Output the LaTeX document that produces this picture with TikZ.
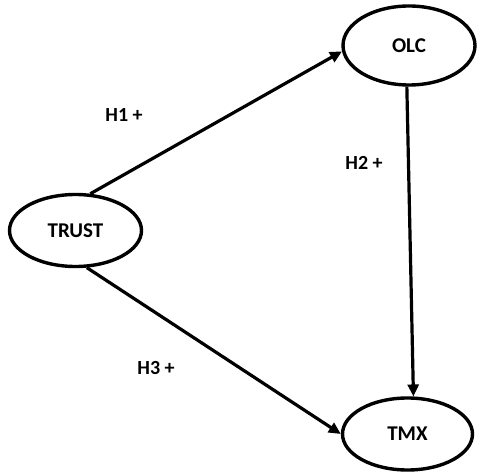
\documentclass[tikz,border=0pt]{standalone}
\usepackage{fontspec}
\setmainfont{Carlito}
\usetikzlibrary{shapes.geometric,arrows.meta}
\begin{document}
\begin{tikzpicture}[x=1pt,y=-1pt,
  construct/.style={ellipse,draw,line width=3.4pt,inner sep=0pt,
    font=\fontsize{21}{25}\selectfont\bfseries},
  path/.style={line width=3.2pt,-{Triangle[length=12pt,width=11pt]}},
  hyp/.style={font=\fontsize{20}{24}\selectfont\bfseries}]
  \useasboundingbox (0,0) rectangle (477,476);
  % latent constructs
  \node[construct,minimum width=132pt,minimum height=72pt] (trust) at (75.5,230.5) {TRUST};
  \node[construct,minimum width=132pt,minimum height=79pt] (olc) at (409,45.5) {OLC};
  \node[construct,minimum width=130pt,minimum height=72pt] (tmx) at (407.5,434) {TMX};
  % hypothesised paths
  \draw[path] (trust.68) -- (olc.185.5);
  \draw[path] (olc.267) -- (tmx.81);
  \draw[path] (trust.-73) -- (tmx.180);
  % path labels
  \node[hyp] (h1) at (124,115) {H1 +};
  \node[hyp] (h2) at (364,163) {H2 +};
  \node[hyp] (h3) at (156,368) {H3 +};
\end{tikzpicture}
\end{document}
